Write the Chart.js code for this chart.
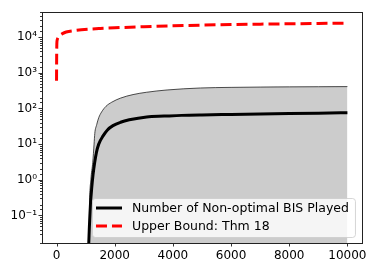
<!DOCTYPE html>
<html>
<head>
<meta charset="utf-8">
<script src="https://cdn.jsdelivr.net/npm/chart.js@4/dist/chart.umd.min.js"></script>
<style>
  body { margin: 0; background: #fff; }
  canvas { display: block; }
</style>
</head>
<body>
<canvas id="grafico" width="373" height="269"></canvas>
<script>
// upper bound curve (red dashed)
const boundX = [0, 2, 5, 10, 25, 60, 100, 200, 330, 680, 1140, 1500, 2000, 3000, 4000, 5000, 6000, 7000, 8000, 9000, 10000];
const boundY = [600, 1500, 3500, 6500, 8500, 10000, 11000, 12500, 13900, 15500, 16800, 17500, 18300, 19600, 20700, 21700, 22500, 23100, 23700, 24200, 24700];

// number of non-optimal BIS played (mean, black)
const meanX = [1050, 1100, 1130, 1165, 1210, 1255, 1310, 1370, 1450, 1600, 1750, 1940, 2200, 2500, 3100, 3700, 4300, 5000, 6000, 7000, 8000, 9000, 10000];
const meanY = [0.004, 0.012, 0.05, 0.2, 0.6, 1.4, 3, 5.8, 10, 17, 25, 33, 41, 48, 58, 61, 64, 66, 68, 70, 72, 74, 76];

// top of the grey band
const upperX = [1100, 1120, 1135, 1180, 1245, 1290, 1315, 1380, 1450, 1550, 1700, 1900, 2200, 2630, 3100, 3800, 4950, 6000, 7000, 8000, 9000, 10000];
const upperY = [0.003, 0.02, 0.2, 1, 3.1, 10, 20, 35, 55, 80, 115, 150, 195, 245, 285, 330, 375, 390, 398, 403, 407, 410];

const xTicks = [0, 2000, 4000, 6000, 8000, 10000];
const legendLabels = ["Number of Non-optimal BIS Played", "Upper Bound: Thm 18"];

const fonte = "DejaVu Sans";
const sup = { "-": "\u207B", "0": "\u2070", "1": "\u00B9", "2": "\u00B2", "3": "\u00B3", "4": "\u2074", "5": "\u2075" };

function pontos(xs, ys) {
  return xs.map((x, i) => ({ x: x, y: ys[i] }));
}

function isPot(v) {
  let l = Math.log10(v);
  return Math.abs(l - Math.round(l)) < 1e-6;
}

// box, ticks and legend like matplotlib
const extras = {
  id: "extras",
  afterDraw(chart) {
    const ctx = chart.ctx;
    const a = chart.chartArea;
    const sx = chart.scales.x;
    const sy = chart.scales.y;
    ctx.save();
    ctx.strokeStyle = "#000";
    ctx.lineWidth = 0.8;

    sy.ticks.forEach(t => {
      if (t.value < sy.min || t.value > sy.max) return;
      let p = Math.round(sy.getPixelForValue(t.value)) + 0.5;
      let len = isPot(t.value) ? 3.5 : 2;
      ctx.beginPath();
      ctx.moveTo(a.left - len, p);
      ctx.lineTo(a.left, p);
      ctx.stroke();
    });
    xTicks.forEach(v => {
      let p = Math.round(sx.getPixelForValue(v)) + 0.5;
      ctx.beginPath();
      ctx.moveTo(p, a.bottom);
      ctx.lineTo(p, a.bottom + 3.5);
      ctx.stroke();
    });
    ctx.lineWidth = 1;
    ctx.strokeStyle = "#222";
    ctx.strokeRect(Math.round(a.left) + 0.5, Math.round(a.top) + 0.5, Math.round(a.right - a.left), Math.round(a.bottom - a.top));

    // legend
    ctx.font = "12.5px '" + fonte + "'";
    let tw = Math.max(...legendLabels.map(l => ctx.measureText(l).width));
    let w = 4 + 26 + 10 + tw + 6;
    let h = 39;
    let right = a.right - 7;
    let bottom = a.bottom - 6;
    let left = right - w;
    let top = bottom - h;
    ctx.beginPath();
    ctx.roundRect(left + 0.5, top + 0.5, w, h, 3);
    ctx.fillStyle = "rgba(255,255,255,0.8)";
    ctx.fill();
    ctx.strokeStyle = "rgba(204,204,204,0.8)";
    ctx.lineWidth = 1;
    ctx.stroke();

    const sets = [chart.data.datasets[0], chart.data.datasets[1]];
    sets.forEach((ds, i) => {
      let y = top + 10 + i * 18;
      ctx.beginPath();
      ctx.strokeStyle = ds.borderColor;
      ctx.lineWidth = ds.borderWidth;
      ctx.setLineDash(ds.borderDash || []);
      ctx.moveTo(left + 4, y);
      ctx.lineTo(left + 30, y);
      ctx.stroke();
      ctx.setLineDash([]);
      ctx.fillStyle = "#000";
      ctx.textBaseline = "middle";
      ctx.textAlign = "left";
      ctx.fillText(legendLabels[i], left + 40, y + 1);
    });
    ctx.restore();
  }
};

new Chart(document.getElementById("grafico"), {
  type: "line",
  data: {
    datasets: [
      {
        label: legendLabels[0],
        data: pontos(meanX, meanY),
        borderColor: "#000",
        borderWidth: 3,
        pointRadius: 0,
        fill: false,
        cubicInterpolationMode: "monotone",
        clip: 0
      },
      {
        label: legendLabels[1],
        data: pontos(boundX, boundY),
        borderColor: "#ff0000",
        borderWidth: 3,
        borderDash: [11, 5],
        pointRadius: 0,
        fill: false,
        cubicInterpolationMode: "monotone",
        clip: 0
      },
      {
        label: "band",
        data: pontos(upperX, upperY),
        borderColor: "#222",
        borderWidth: 0.8,
        backgroundColor: "#cccccc",
        pointRadius: 0,
        fill: "start",
        cubicInterpolationMode: "monotone",
        clip: 0
      }
    ]
  },
  options: {
    responsive: false,
    devicePixelRatio: 1,
    animation: false,
    layout: { padding: { left: 0, top: 6, right: 11, bottom: 0 } },
    plugins: {
      legend: { display: false },
      tooltip: { enabled: false }
    },
    scales: {
      x: {
        type: "linear",
        min: -500,
        max: 10500,
        grid: { display: false, drawTicks: false },
        border: { display: false },
        afterFit: s => { s.height = 26; },
        afterBuildTicks: s => { s.ticks = xTicks.map(v => ({ value: v })); },
        ticks: {
          autoSkip: false,
          padding: 6,
          color: "#000",
          font: { family: fonte, size: 12 },
          maxRotation: 0,
          callback: v => String(v)
        }
      },
      y: {
        type: "logarithmic",
        min: 0.0169,
        max: 50000,
        grid: { display: false, drawTicks: false },
        border: { display: false },
        afterFit: s => { s.width = 42; },
        ticks: {
          autoSkip: false,
          padding: 5,
          color: "#000",
          font: { family: fonte, size: 12 },
          callback: v => {
            if (!isPot(v)) return "";
            let e = String(Math.round(Math.log10(v)));
            return "10" + e.split("").map(c => sup[c]).join("");
          }
        }
      }
    }
  },
  plugins: [extras]
});
</script>
</body>
</html>
